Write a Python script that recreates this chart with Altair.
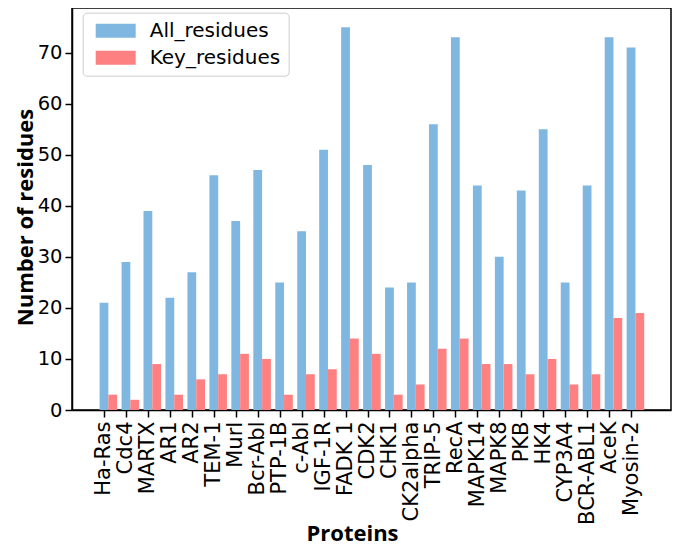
import altair as alt
import pandas as pd

proteins = ["Ha-Ras", "Cdc4", "MARTX", "AR1", "AR2", "TEM-1", "MurI", "Bcr-Abl",
            "PTP-1B", "c-Abl", "IGF-1R", "FADK 1", "CDK2", "CHK1", "CK2alpha",
            "TRIP-5", "RecA", "MAPK14", "MAPK8", "PKB", "HK4", "CYP3A4",
            "BCR-ABL1", "AceK", "Myosin-2"]
all_residues = [21, 29, 39, 22, 27, 46, 37, 47, 25, 35, 51, 75, 48, 24, 25,
                56, 73, 44, 30, 43, 55, 25, 44, 73, 71]
key_residues = [3, 2, 9, 3, 6, 7, 11, 10, 3, 7, 8, 14, 11, 3, 5,
                12, 14, 9, 9, 7, 10, 5, 7, 18, 19]
series_names = ["All_residues", "Key_residues"]
series_colors = ["#80b7e0", "#ff8080"]
y_ticks = [0, 10, 20, 30, 40, 50, 60, 70]

rows = []
for i, p in enumerate(proteins):
    rows.append({"i": i, "protein": p, "series": series_names[0], "value": all_residues[i]})
    rows.append({"i": i, "protein": p, "series": series_names[1], "value": key_residues[i]})
df = pd.DataFrame(rows)

label_array = "[" + ",".join("'" + p + "'" for p in proteins) + "]"

PLOT_H = 402

bars = alt.Chart(df).transform_calculate(
    x0="datum.i + (datum.series == 'All_residues' ? -0.2 : 0.2)",
    x1="datum.i + (datum.series == 'All_residues' ? 0.2 : 0.6)",
).mark_bar(strokeWidth=0).encode(
    x=alt.X("x0:Q",
            scale=alt.Scale(domain=[-1.456, 25.82], nice=False, zero=False),
            axis=alt.Axis(values=list(range(len(proteins))),
                          labelExpr=label_array + "[datum.value]",
                          labelAngle=-90, labelFont="DejaVu Sans", labelFontSize=21,
                          labelColor="black", labelPadding=4,
                          tickSize=7, tickWidth=1.5, tickColor="black",
                          domainColor="black", domainWidth=1.5, grid=False,
                          title="Proteins", titleFont="Open Sans", titleFontSize=22,
                          titleFontWeight="bold", titleColor="black",
                          titleX=280, titleY=130, titleBaseline="alphabetic",
                          labelOverlap=False)),
    x2="x1:Q",
    y=alt.Y("value:Q",
            scale=alt.Scale(domain=[0, 78.75], nice=False),
            axis=alt.Axis(values=y_ticks, labelFont="DejaVu Sans", labelFontSize=19.5,
                          labelColor="black", labelPadding=3,
                          tickSize=7, tickWidth=1.5, tickColor="black",
                          domainColor="black", domainWidth=1.5, grid=False,
                          title="Number of residues", titleFont="Open Sans",
                          titleFontSize=22, titleFontWeight="bold", titleColor="black",
                          titleX=-40, titleY=PLOT_H / 2 + 8, titleBaseline="alphabetic")),
    y2=alt.datum(0),
    color=alt.Color("series:N",
                    scale=alt.Scale(domain=series_names, range=series_colors),
                    legend=alt.Legend(title=None, orient="none", legendX=10.7, legendY=4.7,
                                      symbolType="M-1,-1.4L7,-1.4L7,1.4L-1,1.4Z",
                                      symbolSize=100, symbolStrokeWidth=0,
                                      symbolOpacity=1,
                                      labelFont="DejaVu Sans", labelFontSize=20,
                                      labelColor="black", labelOffset=39,
                                      padding=8, rowPadding=7,
                                      strokeColor="#cccccc", fillColor="white",
                                      cornerRadius=4)),
).properties(
    width=599, height=PLOT_H,
    autosize=alt.AutoSizeParams(type="none"),
    padding={"left": 64, "top": 0, "right": 1, "bottom": 137},
).configure_view(stroke="black", strokeWidth=1.5)

chart = bars
chart.save("out.html", embed_options={"renderer": "svg", "actions": False})
